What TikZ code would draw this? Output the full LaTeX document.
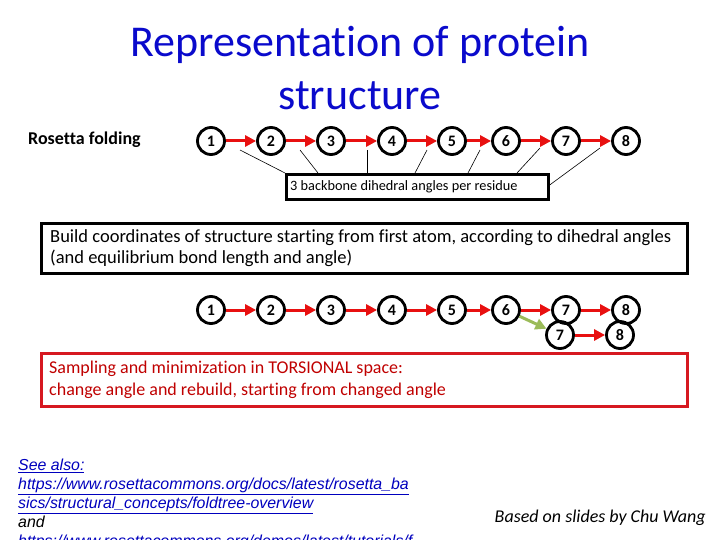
\documentclass[tikz,border=0pt]{standalone}
\usepackage{fontspec}
\setmainfont{Carlito}[Ligatures=NoCommon]
\newfontfamily\linkfont{Liberation Sans}
\usetikzlibrary{arrows.meta,positioning,calc}
\definecolor{titleblue}{RGB}{10,10,204}
\definecolor{bondred}{RGB}{232,16,16}
\definecolor{boxred}{RGB}{214,24,32}
\definecolor{textred}{RGB}{192,0,0}
\definecolor{branchgreen}{RGB}{155,187,89}
\definecolor{linkblue}{RGB}{0,0,190}
\tikzset{
  res/.style={circle,draw,line width=2.8pt,minimum size=27pt,inner sep=0pt,
    font=\fontsize{16}{16}\selectfont\bfseries},
  bond/.style={draw=bondred,line width=3pt,-{Triangle[length=11pt,width=11pt]}},
  branch/.style={draw=branchgreen,line width=3pt,-{Triangle[length=11pt,width=11pt]}},
  pointer/.style={draw,line width=0.6pt},
  infobox/.style={draw,line width=2.8pt,anchor=north west,inner sep=0pt},
  boxtext/.style={anchor=west,align=left,inner sep=0pt}
}

\begin{document}
\begin{tikzpicture}[x=1pt,y=1pt,yscale=-1,xscale=1]
\useasboundingbox[fill=white] (0,0) rectangle (720,540);
\clip (0,0) rectangle (720,540);

% Title
\node[text=titleblue,align=center,font=\fontsize{44}{53}\selectfont] (title) at (360,68)
  {Representation of protein\\structure};
% Text Node
\node[anchor=west,inner xsep=0pt,font=\fontsize{18}{18}\selectfont\bfseries] (rosetta) at (28,140) {Rosetta folding};

%Residue chain: top row
\foreach \i/\x in {1/211,2/271,3/331,4/392,5/452,6/506,7/566,8/626}
  \node[res] (t\i) at (\x,141) {\i};
\foreach \i/\j in {1/2,2/3,3/4,4/5,5/6,6/7,7/8}
  \draw[bond] (t\i) -- (t\j);

%Shape: Rectangle + Text Node
\node[infobox,minimum width=262pt,minimum height=25pt] (angles) at (285,173) {};
\node[boxtext,font=\fontsize{14.3}{15}\selectfont] (anglestext) at ([xshift=5pt]angles.west)
  {3 backbone dihedral angles per residue};

%Straight Lines: angle pointers
\foreach \i/\x/\y in {1/240/150,2/300/150,3/367/150,4/427/150,5/480/150,6/540/148,7/600/148}
  \coordinate (m\i) at (\x,\y);
\draw[pointer] (m1) -- (angles.north west);
\foreach \i/\dx in {2/33,3/82,4/130,5/183,6/232}
  \draw[pointer] (m\i) -- ([xshift=\dx pt]angles.north west);
\draw[pointer] (m7) -- ([yshift=-2pt]angles.east);

%Shape: Rectangle + Text Node
\node[infobox,minimum width=646pt,minimum height=50pt] (build) at (40,222) {};
\node[boxtext,font=\fontsize{18.5}{21}\selectfont] (buildtext) at ([xshift=10pt]build.west)
  {Build coordinates of structure starting from first atom, according to dihedral angles\\
   (and equilibrium bond length and angle)};

%Residue chain: bottom row
\foreach \i/\x in {1/211,2/271,3/331,4/392,5/452,6/506,7/566,8/626}
  \node[res] (b\i) at (\x,310) {\i};
\foreach \i/\j in {1/2,2/3,3/4,4/5,5/6,6/7,7/8}
  \draw[bond] (b\i) -- (b\j);
\node[res] (c7) at (560,335) {7};
\node[res] (c8) at (620,335) {8};
\draw[branch] (b6) -- (c7);
\draw[bond] (c7) -- (c8);

%Shape: Rectangle + Text Node
\node[infobox,draw=boxred,minimum width=646pt,minimum height=53pt] (sampling) at (40,352) {};
\node[boxtext,text=textred,font=\fontsize{18}{22}\selectfont] (samplingtext) at ([xshift=9pt]sampling.west)
  {Sampling and minimization in TORSIONAL space:\\
   change angle and rebuild, starting from changed angle};

% Text Node
\node[anchor=north west,align=left,inner sep=0pt,font=\linkfont\itshape\fontsize{15.9}{19}\selectfont]
  (links) at (18,459)
  {\textcolor{linkblue}{\underline{See also:}}\\
   \textcolor{linkblue}{\underline{https://www.rosettacommons.org/docs/latest/rosetta\_ba}}\\
   \textcolor{linkblue}{\underline{sics/structural\_concepts/foldtree-overview}}\\
   and\\
   \textcolor{linkblue}{\underline{https://www.rosettacommons.org/demos/latest/tutorials/f}}};

% Text Node
\node[anchor=east,inner xsep=0pt,font=\fontsize{18}{18}\selectfont\itshape] (credit) at (706,518)
  {Based on slides by Chu Wang};

\end{tikzpicture}
\end{document}
